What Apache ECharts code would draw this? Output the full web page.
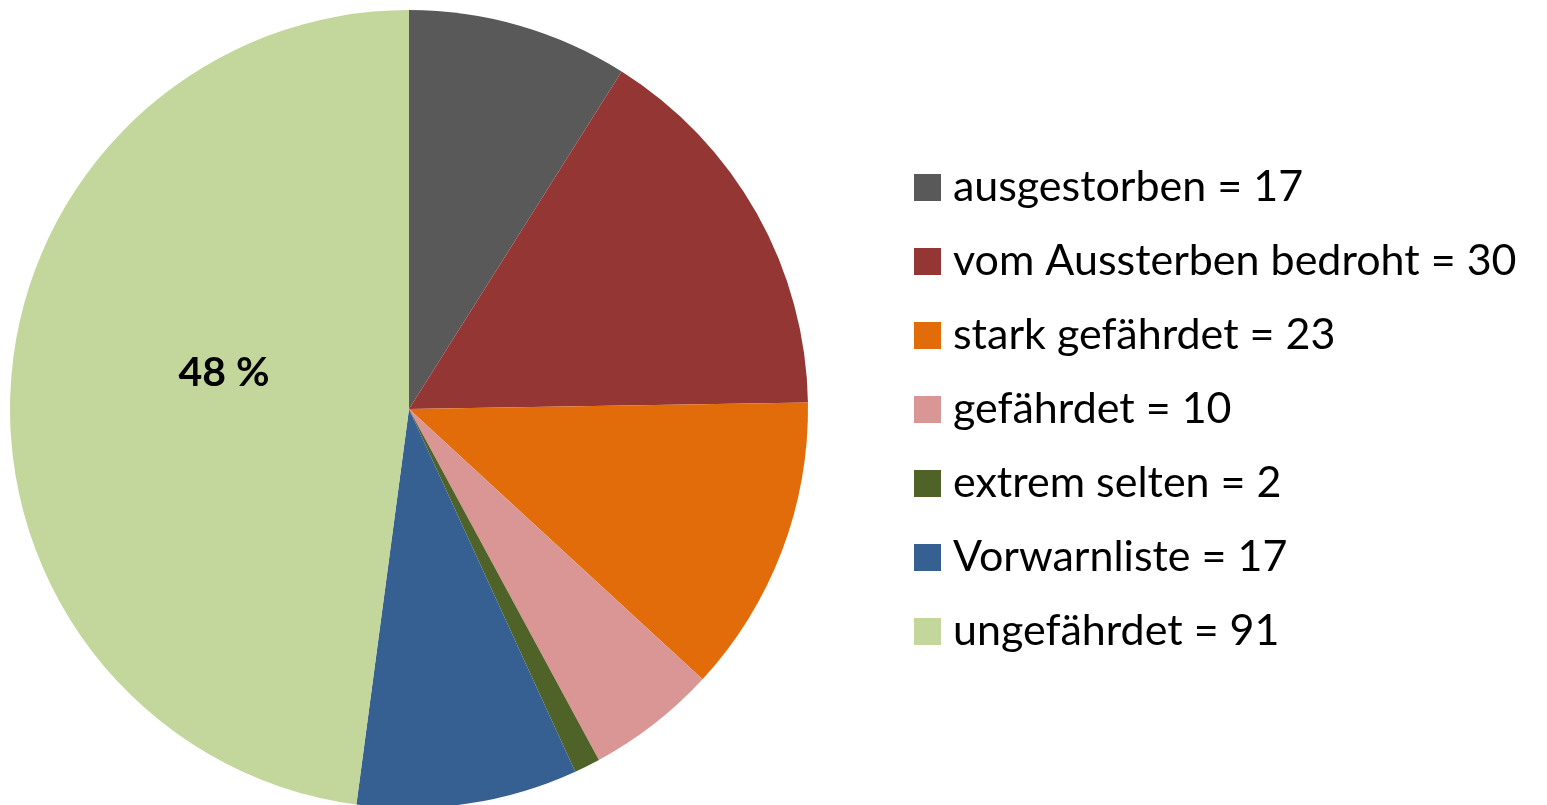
<!DOCTYPE html>
<html>
<head>
<meta charset="utf-8">
<script src="https://cdn.jsdelivr.net/npm/echarts@6/dist/echarts.min.js"></script>
<style>
  html, body { margin: 0; padding: 0; background: #fff; }
  #chart { width: 1547px; height: 805px; }
</style>
</head>
<body>
<div id="chart"></div>
<script>
const categories = ['ausgestorben', 'vom Aussterben bedroht', 'stark gefährdet', 'gefährdet', 'extrem selten', 'Vorwarnliste', 'ungefährdet']
const counts = [17, 30, 23, 10, 2, 17, 91]
const colors = ['#595959', '#943634', '#e36c0a', '#d99694', '#4f6228', '#376092', '#c3d69b']

const total = counts.reduce((a, b) => a + b, 0)
const chart = echarts.init(document.getElementById('chart'))

chart.setOption({
  animation: false,
  color: colors,
  legend: {
    orient: 'vertical',
    left: 914,
    top: 166,
    padding: 0,
    icon: 'rect',
    itemWidth: 27,
    itemHeight: 27,
    itemGap: 31,
    formatter: (name) => name + ' = ' + counts[categories.indexOf(name)],
    textStyle: { fontFamily: 'Lato', fontSize: 43, color: '#000', padding: [0, 0, 0, 7] },
  },
  series: [
    {
      type: 'pie',
      center: [409, 409],
      radius: [0, 399],
      startAngle: 90,
      clockwise: true,
      label: { show: false },
      labelLine: { show: false },
      data: categories.map((name, i) => ({
        name,
        value: counts[i],
        label: i === categories.length - 1
          ? {
              show: true,
              position: 'inside',
              offset: [17, -23],
              formatter: () => Math.round((counts[i] / total) * 100) + ' %',
              fontFamily: 'Lato',
              fontWeight: 'bold',
              fontSize: 41,
              color: '#000',
            }
          : { show: false },
      })),
    },
  ],
})
</script>
</body>
</html>
